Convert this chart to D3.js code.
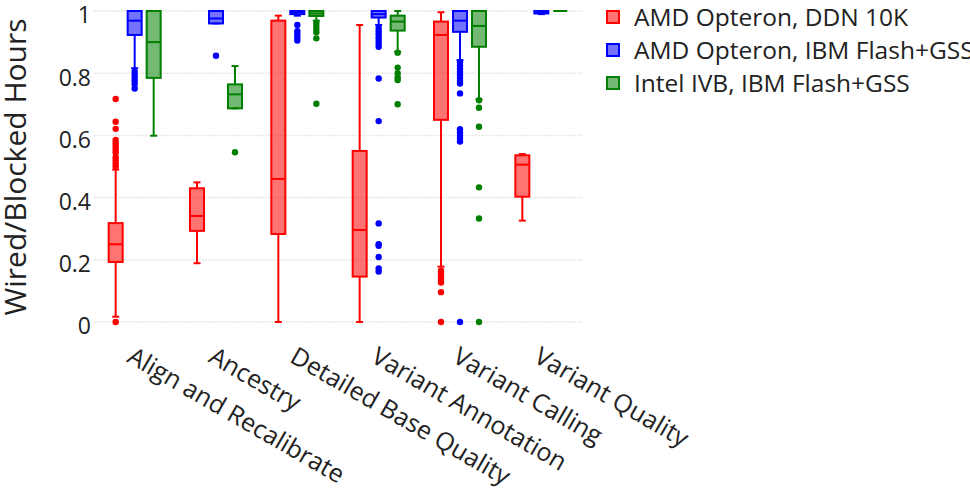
<!DOCTYPE html>
<html>
<head>
<meta charset="utf-8">
<script src="https://cdn.jsdelivr.net/npm/d3@7"></script>
<style>
  html, body { margin: 0; padding: 0; background: #fff; overflow: hidden; }
  svg { display: block; font-family: "Open Sans", sans-serif; }
</style>
</head>
<body>
<svg id="chart" width="970" height="500"></svg>
<script>
const categories = ["Align and Recalibrate", "Ancestry", "Detailed Base Quality", "Variant Annotation", "Variant Calling", "Variant Quality"];
const seriesNames = ["AMD Opteron, DDN 10K", "AMD Opteron, IBM Flash+GSS", "Intel IVB, IBM Flash+GSS"];
const seriesColors = ["#ff0000", "#0000ff", "#007f00"];
const yTicks = [0, 0.2, 0.4, 0.6, 0.8, 1];

// Box statistics per series, one entry per category
const ddnLower  = [0.017, 0.189, 0.000, 0.000, 0.178, 0.326];
const ddnQ1     = [0.193, 0.293, 0.283, 0.146, 0.650, 0.403];
const ddnMedian = [0.250, 0.341, 0.460, 0.296, 0.923, 0.506];
const ddnQ3     = [0.318, 0.430, 0.969, 0.550, 0.966, 0.536];
const ddnUpper  = [0.490, 0.449, 0.985, 0.955, 0.996, 0.540];
const ddnOutliers = [
  [0, 0.717, 0.644, 0.621, 0.585, 0.575, 0.565, 0.555, 0.545, 0.53, 0.52, 0.51, 0.50],
  [], [], [],
  [0.165, 0.158, 0.150, 0.143, 0.135, 0.127, 0.096, 0],
  []
];

const ibmAmdLower  = [0.816, 0.960, 0.985, 0.955, 0.842, 0.990];
const ibmAmdQ1     = [0.923, 0.960, 0.990, 0.979, 0.933, 0.992];
const ibmAmdMedian = [0.969, 0.976, 0.997, 0.990, 0.969, 0.996];
const ibmAmdQ3     = [1.000, 1.000, 1.000, 1.000, 1.000, 1.000];
const ibmAmdUpper  = [1.000, 1.000, 1.000, 1.000, 1.000, 1.000];
const ibmAmdOutliers = [
  [0.805, 0.795, 0.785, 0.775, 0.765, 0.751],
  [0.856],
  [0.955, 0.935, 0.925, 0.915, 0.905],
  [0.945, 0.935, 0.925, 0.915, 0.905, 0.895, 0.885, 0.783, 0.646, 0.317, 0.250, 0.245, 0.209, 0.172, 0.162],
  [0.835, 0.825, 0.815, 0.805, 0.795, 0.785, 0.775, 0.767, 0.735, 0.620, 0.610, 0.600, 0.590, 0.580, 0],
  []
];

const ivbLower  = [0.599, 0.687, 0.969, 0.869, 0.716, 1.000];
const ivbQ1     = [0.785, 0.687, 0.984, 0.937, 0.885, 1.000];
const ivbMedian = [0.900, 0.732, 0.992, 0.966, 0.952, 1.000];
const ivbQ3     = [1.000, 0.764, 1.000, 0.985, 1.000, 1.000];
const ivbUpper  = [1.000, 0.823, 1.000, 1.000, 1.000, 1.000];
const ivbOutliers = [
  [],
  [0.546],
  [0.962, 0.952, 0.942, 0.932, 0.912, 0.702],
  [0.866, 0.818, 0.800, 0.786, 0.778, 0.700],
  [0.713, 0.689, 0.628, 0.433, 0.333, 0],
  []
];

const series = [
  {lower: ddnLower, q1: ddnQ1, med: ddnMedian, q3: ddnQ3, upper: ddnUpper, out: ddnOutliers},
  {lower: ibmAmdLower, q1: ibmAmdQ1, med: ibmAmdMedian, q3: ibmAmdQ3, upper: ibmAmdUpper, out: ibmAmdOutliers},
  {lower: ivbLower, q1: ivbQ1, med: ivbMedian, q3: ivbQ3, upper: ivbUpper, out: ivbOutliers}
];

const svg = d3.select("#chart");
const x = d3.scaleBand().domain(categories).range([94, 582]);
const sub = d3.scaleBand().domain(d3.range(seriesNames.length)).range([-28.5, 28.5]);
const y = d3.scaleLinear().domain([0, 1]).range([322, 11]);
const boxW = 14;

// grid
svg.append("g").selectAll("line").data(yTicks).join("line")
  .attr("x1", 94).attr("x2", 582)
  .attr("y1", d => y(d)).attr("y2", d => y(d))
  .attr("stroke", "#e8e8e8").attr("stroke-width", 1.5)
  .attr("stroke-dasharray", "2,1");

// y axis
const yAxis = svg.append("g").attr("transform", "translate(93,0)")
  .call(d3.axisLeft(y).tickValues(yTicks).tickFormat(d3.format("~g")).tickSize(0).tickPadding(2));
yAxis.select(".domain").remove();
yAxis.selectAll("text").attr("font-size", 23).attr("fill", "#222")
  .attr("font-family", "Open Sans").attr("dy", "0.52em");

svg.append("text")
  .attr("transform", `translate(25.5,167) rotate(-90)`)
  .attr("text-anchor", "middle")
  .attr("font-size", 30).attr("fill", "#222")
  .text("Wired/Blocked Hours");

// x labels
svg.append("g").selectAll("text").data(categories).join("text")
  .attr("transform", d => `translate(${x(d) + x.bandwidth() / 2},${346}) rotate(30)`)
  .attr("text-anchor", "start")
  .attr("dy", "0.71em")
  .attr("font-size", 25).attr("fill", "#222")
  .text(d => d);

// boxes
series.forEach((s, si) => {
  const color = seriesColors[si];
  const g = svg.append("g");
  categories.forEach((c, ci) => {
    const cx = x(c) + x.bandwidth() / 2 + sub(si) + sub.bandwidth() / 2;
    const gg = g.append("g");
    // whiskers
    gg.append("line").attr("x1", cx).attr("x2", cx)
      .attr("y1", y(s.upper[ci])).attr("y2", y(s.q3[ci]))
      .attr("stroke", color).attr("stroke-width", 2);
    gg.append("line").attr("x1", cx).attr("x2", cx)
      .attr("y1", y(s.q1[ci])).attr("y2", y(s.lower[ci]))
      .attr("stroke", color).attr("stroke-width", 2);
    [s.upper[ci], s.lower[ci]].forEach(v => {
      gg.append("line").attr("x1", cx - boxW / 4).attr("x2", cx + boxW / 4)
        .attr("y1", y(v)).attr("y2", y(v))
        .attr("stroke", color).attr("stroke-width", 2);
    });
    // box
    gg.append("rect")
      .attr("x", cx - boxW / 2).attr("width", boxW)
      .attr("y", y(s.q3[ci])).attr("height", Math.max(0, y(s.q1[ci]) - y(s.q3[ci])))
      .attr("fill", color).attr("fill-opacity", 0.55)
      .attr("stroke", color).attr("stroke-width", 2);
    gg.append("line").attr("x1", cx - boxW / 2).attr("x2", cx + boxW / 2)
      .attr("y1", y(s.med[ci])).attr("y2", y(s.med[ci]))
      .attr("stroke", color).attr("stroke-width", 2);
    // outliers
    gg.selectAll("circle").data(s.out[ci]).join("circle")
      .attr("cx", cx).attr("cy", d => y(d)).attr("r", 3.2)
      .attr("fill", color);
  });
});

// legend
const legend = svg.append("g").attr("transform", "translate(606,0)");
seriesNames.forEach((n, i) => {
  const cy = 17 + i * 33;
  legend.append("rect").attr("x", 1).attr("y", cy - 6).attr("width", 12).attr("height", 12)
    .attr("fill", seriesColors[i]).attr("fill-opacity", 0.55)
    .attr("stroke", seriesColors[i]).attr("stroke-width", 2);
  legend.append("text").attr("x", 28).attr("y", cy).attr("dy", "0.36em")
    .attr("font-size", 24.5).attr("fill", "#222").text(n);
});
</script>
</body>
</html>
